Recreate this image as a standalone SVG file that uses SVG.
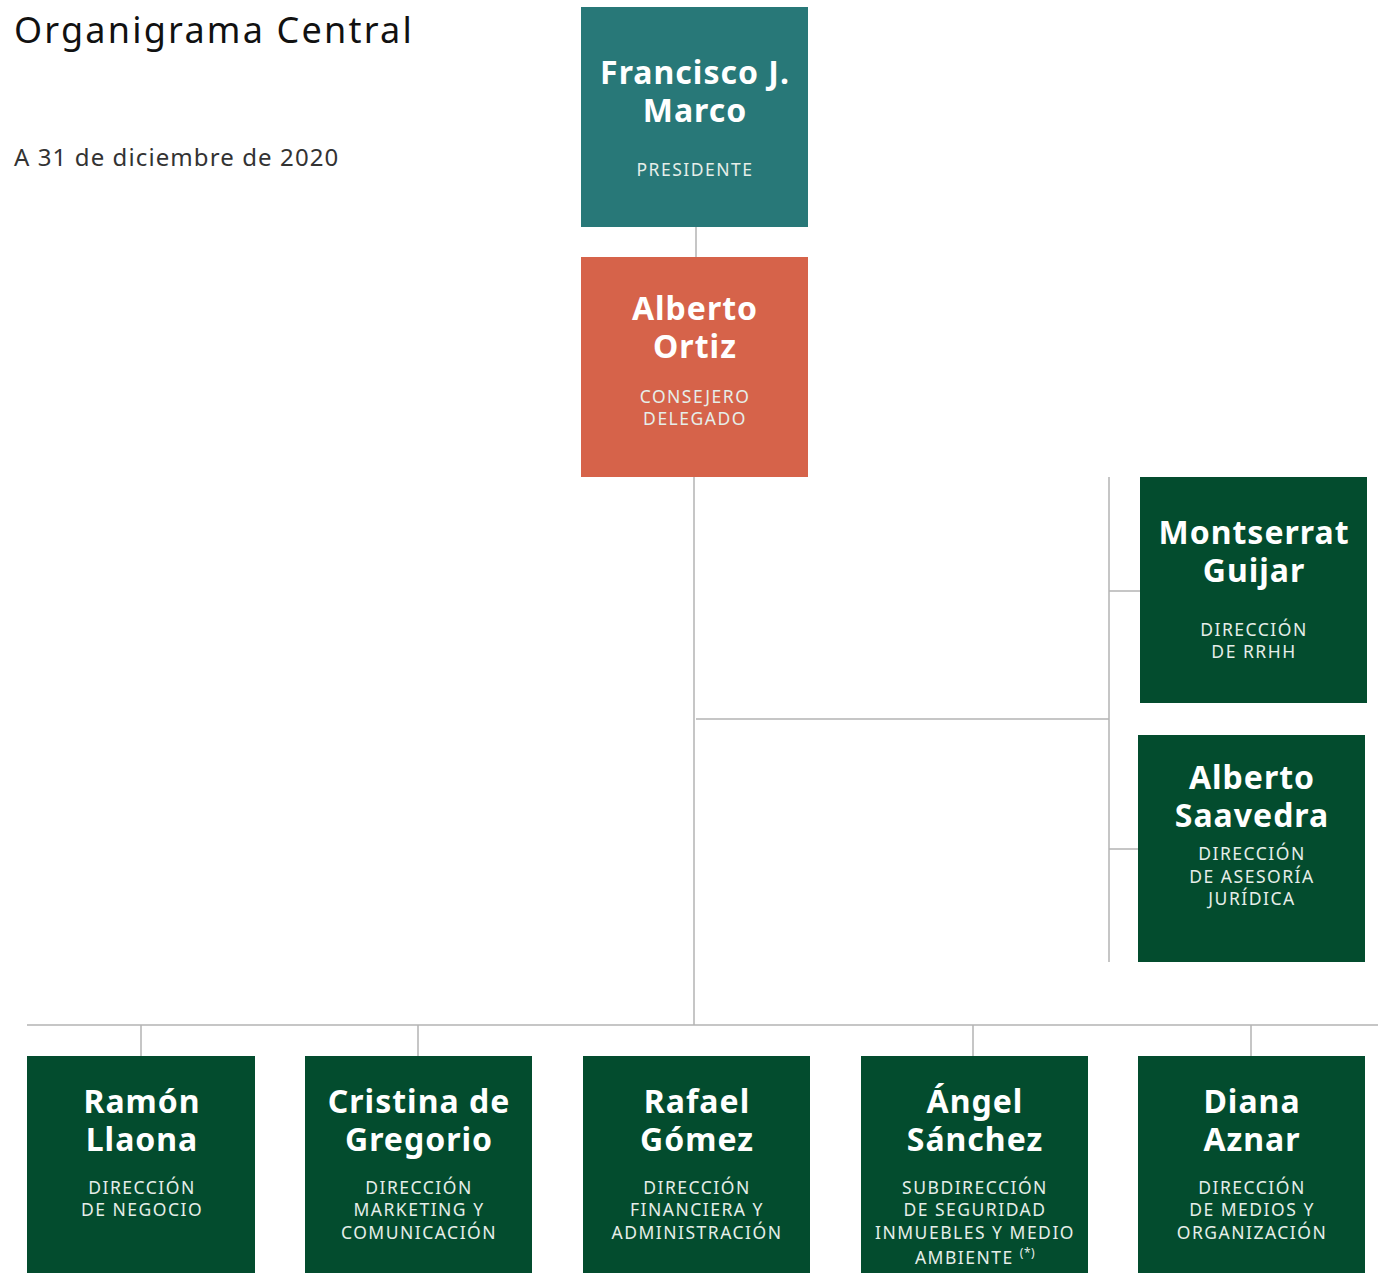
<svg xmlns="http://www.w3.org/2000/svg" width="1391" height="1273" viewBox="0 0 1391 1273">
<style>
.bg{fill:#fff}
.teal{fill:#287878}
.orange{fill:#D6634A}
.green{fill:#034C2E}
.name{font-family:"Noto Sans","Open Sans",sans-serif;font-weight:bold;font-size:32px;fill:#fff;text-anchor:middle;letter-spacing:1px}
.role{font-family:"Noto Sans","Open Sans",sans-serif;font-size:17.5px;fill:#e6eee9;text-anchor:middle;letter-spacing:1.5px}
.conn{stroke:#b3b3b3;stroke-width:1.5;fill:none}
.title{font-family:"Noto Sans","Open Sans",sans-serif;font-size:36px;fill:#111;letter-spacing:2.2px}
.sub{font-family:"Noto Sans","Open Sans",sans-serif;font-size:24px;fill:#333;letter-spacing:1.1px}
</style>
<rect class="bg" x="0" y="0" width="1391" height="1273"/>
<text class="title" x="14" y="43">Organigrama Central</text>
<text class="sub" x="14" y="166">A 31 de diciembre de 2020</text>
<g id="connectors">
<line class="conn" x1="696" y1="227" x2="696" y2="257"/>
<line class="conn" x1="694" y1="477" x2="694" y2="1025"/>
<line class="conn" x1="696" y1="719" x2="1109" y2="719"/>
<line class="conn" x1="1109" y1="477" x2="1109" y2="962"/>
<line class="conn" x1="1109" y1="591" x2="1140" y2="591"/>
<line class="conn" x1="1109" y1="849" x2="1138" y2="849"/>
<line class="conn" x1="27" y1="1025" x2="1378" y2="1025"/>
<line class="conn" x1="141" y1="1025" x2="141" y2="1056"/>
<line class="conn" x1="418" y1="1025" x2="418" y2="1056"/>
<line class="conn" x1="973" y1="1025" x2="973" y2="1056"/>
<line class="conn" x1="1251" y1="1025" x2="1251" y2="1056"/>
</g>
<g id="node-marco">
<rect class="teal" x="581" y="7" width="227" height="220"/>
<text class="name" x="695" y="84">Francisco J.</text>
<text class="name" x="695" y="122">Marco</text>
<text class="role" x="695" y="176">PRESIDENTE</text>
</g>
<g id="node-ortiz">
<rect class="orange" x="581" y="257" width="227" height="220"/>
<text class="name" x="695" y="320">Alberto</text>
<text class="name" x="695" y="358">Ortiz</text>
<text class="role" x="695" y="403">CONSEJERO</text>
<text class="role" x="695" y="425">DELEGADO</text>
</g>
<g id="node-guijar">
<rect class="green" x="1140" y="477" width="227" height="226"/>
<text class="name" x="1254" y="544">Montserrat</text>
<text class="name" x="1254" y="582">Guijar</text>
<text class="role" x="1254" y="636">DIRECCIÓN</text>
<text class="role" x="1254" y="658">DE RRHH</text>
</g>
<g id="node-saavedra">
<rect class="green" x="1138" y="735" width="227" height="227"/>
<text class="name" x="1252" y="789">Alberto</text>
<text class="name" x="1252" y="827">Saavedra</text>
<text class="role" x="1252" y="860">DIRECCIÓN</text>
<text class="role" x="1252" y="883">DE ASESORÍA</text>
<text class="role" x="1252" y="905">JURÍDICA</text>
</g>
<g id="node-llaona">
<rect class="green" x="27" y="1056" width="228" height="217"/>
<text class="name" x="142" y="1113">Ramón</text>
<text class="name" x="142" y="1151">Llaona</text>
<text class="role" x="142" y="1194">DIRECCIÓN</text>
<text class="role" x="142" y="1216">DE NEGOCIO</text>
</g>
<g id="node-gregorio">
<rect class="green" x="305" y="1056" width="227" height="217"/>
<text class="name" x="419" y="1113">Cristina de</text>
<text class="name" x="419" y="1151">Gregorio</text>
<text class="role" x="419" y="1194">DIRECCIÓN</text>
<text class="role" x="419" y="1216">MARKETING Y</text>
<text class="role" x="419" y="1239">COMUNICACIÓN</text>
</g>
<g id="node-gomez">
<rect class="green" x="583" y="1056" width="227" height="217"/>
<text class="name" x="697" y="1113">Rafael</text>
<text class="name" x="697" y="1151">Gómez</text>
<text class="role" x="697" y="1194">DIRECCIÓN</text>
<text class="role" x="697" y="1216">FINANCIERA Y</text>
<text class="role" x="697" y="1239">ADMINISTRACIÓN</text>
</g>
<g id="node-sanchez">
<rect class="green" x="861" y="1056" width="227" height="217"/>
<text class="name" x="975" y="1113">Ángel</text>
<text class="name" x="975" y="1151">Sánchez</text>
<text class="role" x="975" y="1194">SUBDIRECCIÓN</text>
<text class="role" x="975" y="1216">DE SEGURIDAD</text>
<text class="role" x="975" y="1239">INMUEBLES Y MEDIO</text>
<text class="role" x="975" y="1264">AMBIENTE <tspan font-size="12" dy="-7" letter-spacing="0.5">(*)</tspan></text>
</g>
<g id="node-aznar">
<rect class="green" x="1138" y="1056" width="227" height="217"/>
<text class="name" x="1252" y="1113">Diana</text>
<text class="name" x="1252" y="1151">Aznar</text>
<text class="role" x="1252" y="1194">DIRECCIÓN</text>
<text class="role" x="1252" y="1216">DE MEDIOS Y</text>
<text class="role" x="1252" y="1239">ORGANIZACIÓN</text>
</g>
</svg>
